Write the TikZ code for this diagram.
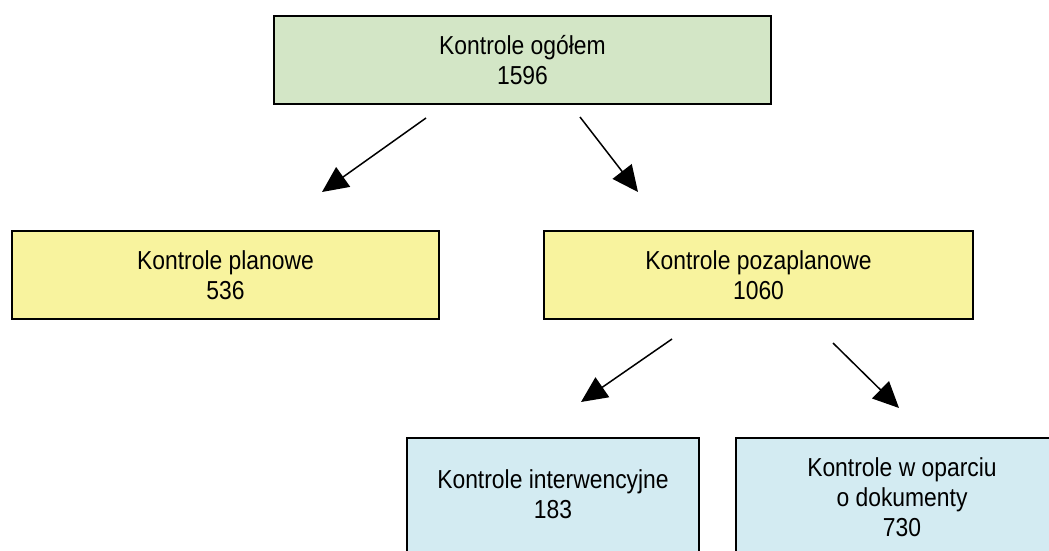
\documentclass[tikz,border=0pt]{standalone}
\usepackage{fontspec}
\setmainfont[FakeStretch=0.88]{Liberation Sans}
\usetikzlibrary{arrows.meta}
\definecolor{boxgreen}{RGB}{211,230,198}
\definecolor{boxyellow}{RGB}{248,243,158}
\definecolor{boxblue}{RGB}{211,235,242}
\tikzset{
  box/.style={draw=black, line width=2.8pt, inner sep=0pt, align=center,
    font=\fontsize{26}{30}\selectfont},
  arr/.style={line width=1.5pt, -{Triangle[length=26pt,width=24pt]}}
}

\begin{document}
\begin{tikzpicture}[x=1pt,y=-1pt]
                \clip (0,0) rectangle (1049,550);
                \fill[white] (0,0) rectangle (1049,550);
                \node[box, fill=boxgreen, minimum width=497pt, minimum height=88pt] (ogolem) at (522.5,60) {Kontrole ogółem\\1596};
                \node[box, fill=boxyellow, minimum width=427pt, minimum height=88pt] (planowe) at (225.5,275) {Kontrole planowe\\536};
                \node[box, fill=boxyellow, minimum width=429pt, minimum height=88pt] (pozaplanowe) at (758.5,275) {Kontrole pozaplanowe\\1060};
                \node[box, fill=boxblue, minimum width=292pt, minimum height=124pt, text depth=12pt] (interwencyjne) at (553,500) {Kontrole interwencyjne\\183};
                \node[box, fill=boxblue, minimum width=332pt, minimum height=124pt, text depth=6pt] (dokumenty) at (902,500) {Kontrole w oparciu\\o dokumenty\\730};
                \coordinate (s1) at (426,118);
                \coordinate (t1) at (322,192);
                \coordinate (s2) at (580,117);
                \coordinate (t2) at (638,192);
                \coordinate (s3) at (672,339);
                \coordinate (t3) at (581,402);
                \coordinate (s4) at (833,343);
                \coordinate (t4) at (899,408);
                \foreach \s/\t in {s1/t1,s2/t2,s3/t3,s4/t4} {
                    \draw[arr] (\s) -- (\t);
                }
            \end{tikzpicture}
\end{document}
